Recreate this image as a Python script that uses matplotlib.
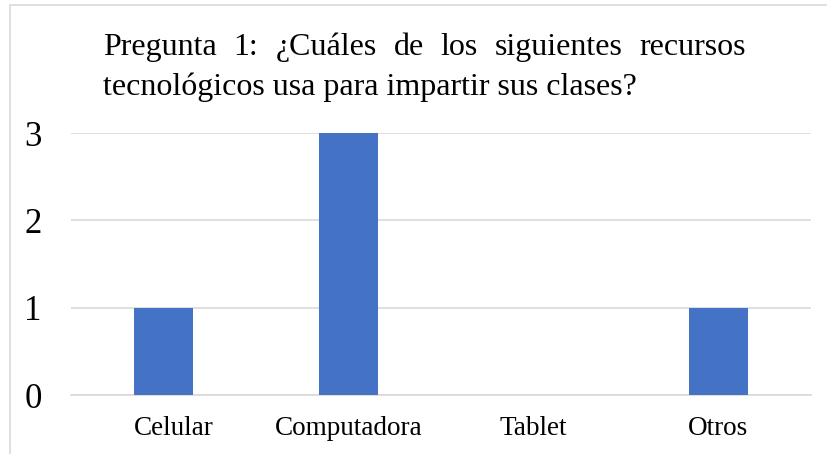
import matplotlib
matplotlib.use("Agg")
import matplotlib.pyplot as plt
from matplotlib.patches import Rectangle
from matplotlib.transforms import ScaledTranslation

categories = ["Celular", "Computadora", "Tablet", "Otros"]
values = [1, 3, 0, 1]
yticks = [0, 1, 2, 3]
title_line1 = "Pregunta 1: ¿Cuáles de los siguientes recursos"
title_line2 = "tecnológicos usa para impartir sus clases?"

plt.rcParams['font.family'] = ['Liberation Serif', 'DejaVu Serif']

W, H = 828, 454
fig = plt.figure(figsize=(W / 100, H / 100), dpi=100)
ax = fig.add_axes([71 / W, 1 - 395 / H, (811 - 71) / W, (395 - 133) / H])

x = list(range(len(categories)))
ax.bar(x, values, width=0.315, color="#4472C4", zorder=3)
ax.set_xlim(-0.5, len(categories) - 0.5)
ax.set_ylim(0, 3)
ax.set_yticks(yticks)
ax.set_yticklabels([str(v) for v in yticks], fontsize=25)
ax.set_xticks(x)
ax.set_xticklabels(categories, fontsize=19.5)
ax.tick_params(axis='y', length=0, pad=21)
ax.tick_params(axis='x', length=0, pad=15)
ax.grid(axis='y', color="#d9d9d9", linewidth=1.2, zorder=0)
for s in ["top", "right", "left"]:
    ax.spines[s].set_visible(False)
ax.spines["bottom"].set_color("#d9d9d9")
ax.spines["bottom"].set_linewidth(1.2)
lbl0 = ax.get_xticklabels()[0]
lbl0.set_transform(lbl0.get_transform() + ScaledTranslation(10 / 100, 0, fig.dpi_scale_trans))

# outer chart frame (partially visible)
fig.patches.append(Rectangle((10 / W, -0.1), 1.0, 1 - 5 / H + 0.1,
                             transform=fig.transFigure, fill=False,
                             edgecolor="#d9d9d9", linewidth=1.2))

# justified title
fs = 23
left_px, right_px = 103, 746
words = title_line1.split(" ")
renderer = fig.canvas.get_renderer()
widths = []
tmp = []
for w in words:
    t = fig.text(0, 0, w, fontsize=fs)
    bb = t.get_window_extent(renderer=renderer)
    widths.append(bb.width)
    tmp.append(t)
for t in tmp:
    t.remove()
gap = (right_px - left_px - sum(widths)) / (len(words) - 1)
xpos = left_px
for w, wd in zip(words, widths):
    fig.text(xpos / W, 1 - 55 / H, w, fontsize=fs, ha='left', va='baseline')
    xpos += wd + gap
fig.text(left_px / W, 1 - 95 / H, title_line2, fontsize=fs, ha='left', va='baseline')

fig.savefig("out.png", dpi=100)
